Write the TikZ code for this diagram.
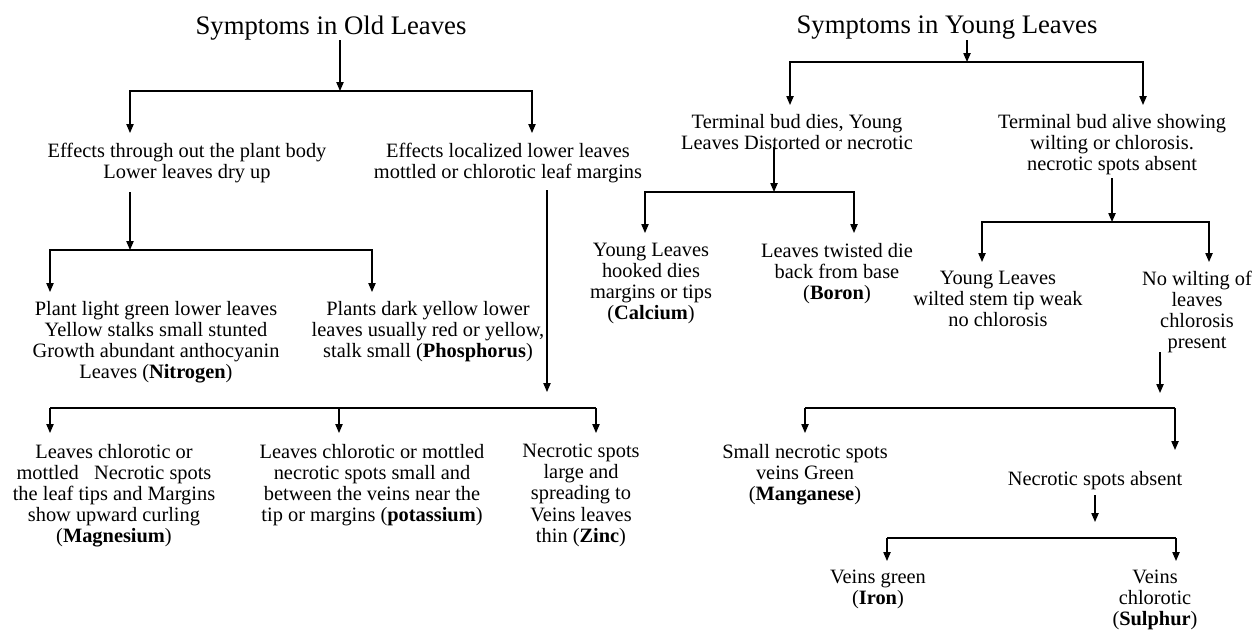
\documentclass[tikz,border=0pt]{standalone}
\usepackage{fontspec}
\setmainfont{Liberation Serif}
\usetikzlibrary{positioning,arrows.meta}

\begin{document}
\begin{tikzpicture}[
  x=0.025cm, y=-0.025cm,
  ttl/.style={inner sep=0pt, font=\fontsize{19}{22}\selectfont},
  txt/.style={align=center, inner sep=0pt, anchor=north, font=\fontsize{14.5}{15}\selectfont},
  arr/.style={line width=0.8pt, -{Triangle[length=2.2mm,width=1.8mm]}},
  bar/.style={line width=0.8pt}
]
\useasboundingbox (0,0) rectangle (1254,631);

% old leaves
\node[ttl] (old) at (331,28) {Symptoms in Old Leaves};
\node[txt] (effA) at (187,143) {Effects through out the plant body\\Lower leaves dry up};
\node[txt] (effB) at (508,143) {Effects localized lower leaves\\mottled or chlorotic leaf margins};
\node[txt] (nitro) at (156,301) {Plant light green lower leaves\\Yellow stalks small stunted\\Growth abundant anthocyanin\\Leaves (\textbf{Nitrogen})};
\node[txt] (phos) at (428,301) {Plants dark yellow lower\\leaves usually red or yellow,\\stalk small (\textbf{Phosphorus})};
\node[txt] (magn) at (114,444) {Leaves chlorotic or\\mottled~~~Necrotic spots\\the leaf tips and Margins\\show upward curling\\(\textbf{Magnesium})};
\node[txt] (pota) at (372,444) {Leaves chlorotic or mottled\\necrotic spots small and\\between the veins near the\\tip or margins (\textbf{potassium})};
\node[txt] (zinc) at (581,444) {Necrotic spots\\large and\\spreading to\\Veins leaves\\thin (\textbf{Zinc})};

% young leaves
\node[ttl] (young) at (947,28) {Symptoms in Young Leaves};
\node[txt] (budD) at (797,114) {Terminal bud dies, Young\\Leaves Distorted or necrotic};
\node[txt] (budA) at (1112,114) {Terminal bud alive showing\\wilting or chlorosis.\\necrotic spots absent};
\node[txt] (calc) at (651,243) {Young Leaves\\hooked dies\\margins or tips\\(\textbf{Calcium})};
\node[txt] (boron) at (837,243) {Leaves twisted die\\back from base\\(\textbf{Boron})};
\node[txt] (wilt) at (998,271) {Young Leaves\\wilted stem tip weak\\no chlorosis};
\node[txt] (nowilt) at (1197,271) {No wilting of\\leaves\\chlorosis\\present};
\node[txt] (mang) at (805,444) {Small necrotic spots\\veins Green\\(\textbf{Manganese})};
\node[txt] (necA) at (1095,471) {Necrotic spots absent};
\node[txt] (iron) at (878,570) {Veins green\\(\textbf{Iron})};
\node[txt] (sulph) at (1155,570) {Veins\\chlorotic\\(\textbf{Sulphur})};

% junctions and arrow ends
\coordinate (jOld) at (340,91);
\coordinate (inA) at (130,133);
\coordinate (inB) at (532,133);
\coordinate (sA) at (130,192);
\coordinate (jA) at (130,250);
\coordinate (inN) at (50,292);
\coordinate (inP) at (372,292);
\coordinate (sB) at (547,190);
\coordinate (eB) at (547,392);
\coordinate (bL) at (50,408);
\coordinate (bM) at (339,408);
\coordinate (bR) at (596,408);
\coordinate (inMg) at (50,433);
\coordinate (inK) at (339,433);
\coordinate (inZn) at (596,433);

\coordinate (jYoung) at (967,62);
\coordinate (inD) at (790,105);
\coordinate (inAl) at (1143,105);
\coordinate (sD) at (774,147);
\coordinate (jD) at (774,192);
\coordinate (inCa) at (645,233);
\coordinate (inBo) at (854,233);
\coordinate (sAl) at (1112,178);
\coordinate (jAl) at (1112,222);
\coordinate (inW) at (982,262);
\coordinate (inNw) at (1209,262);
\coordinate (sNw) at (1160,352);
\coordinate (eNw) at (1160,393);
\coordinate (cL) at (805,408);
\coordinate (cR) at (1175,408);
\coordinate (inMn) at (805,433);
\coordinate (inNa) at (1175,450);
\coordinate (sNa) at (1095,495);
\coordinate (eNa) at (1095,522);
\coordinate (dL) at (887,538);
\coordinate (dR) at (1176,538);
\coordinate (inFe) at (887,561);
\coordinate (inS) at (1176,561);

% connectors
\draw[arr] (old.south -| jOld) -- (jOld);
\draw[arr] (jOld) -| (inA);
\draw[arr] (jOld) -| (inB);
\draw[arr] (sA) -- (jA);
\draw[arr] (jA) -| (inN);
\draw[arr] (jA) -| (inP);
\draw[arr] (sB) -- (eB);
\draw[bar] (bL) -- (bR);
\foreach \a/\b in {bL/inMg, bM/inK, bR/inZn}
  \draw[arr] (\a) -- (\b);

\draw[arr] (young.south -| jYoung) -- (jYoung);
\draw[arr] (jYoung) -| (inD);
\draw[arr] (jYoung) -| (inAl);
\draw[arr] (sD) -- (jD);
\draw[arr] (jD) -| (inCa);
\draw[arr] (jD) -| (inBo);
\draw[arr] (sAl) -- (jAl);
\draw[arr] (jAl) -| (inW);
\draw[arr] (jAl) -| (inNw);
\draw[arr] (sNw) -- (eNw);
\draw[bar] (cL) -- (cR);
\draw[arr] (cL) -- (inMn);
\draw[arr] (cR) -- (inNa);
\draw[arr] (sNa) -- (eNa);
\draw[bar] (dL) -- (dR);
\draw[arr] (dL) -- (inFe);
\draw[arr] (dR) -- (inS);

\end{tikzpicture}
\end{document}
